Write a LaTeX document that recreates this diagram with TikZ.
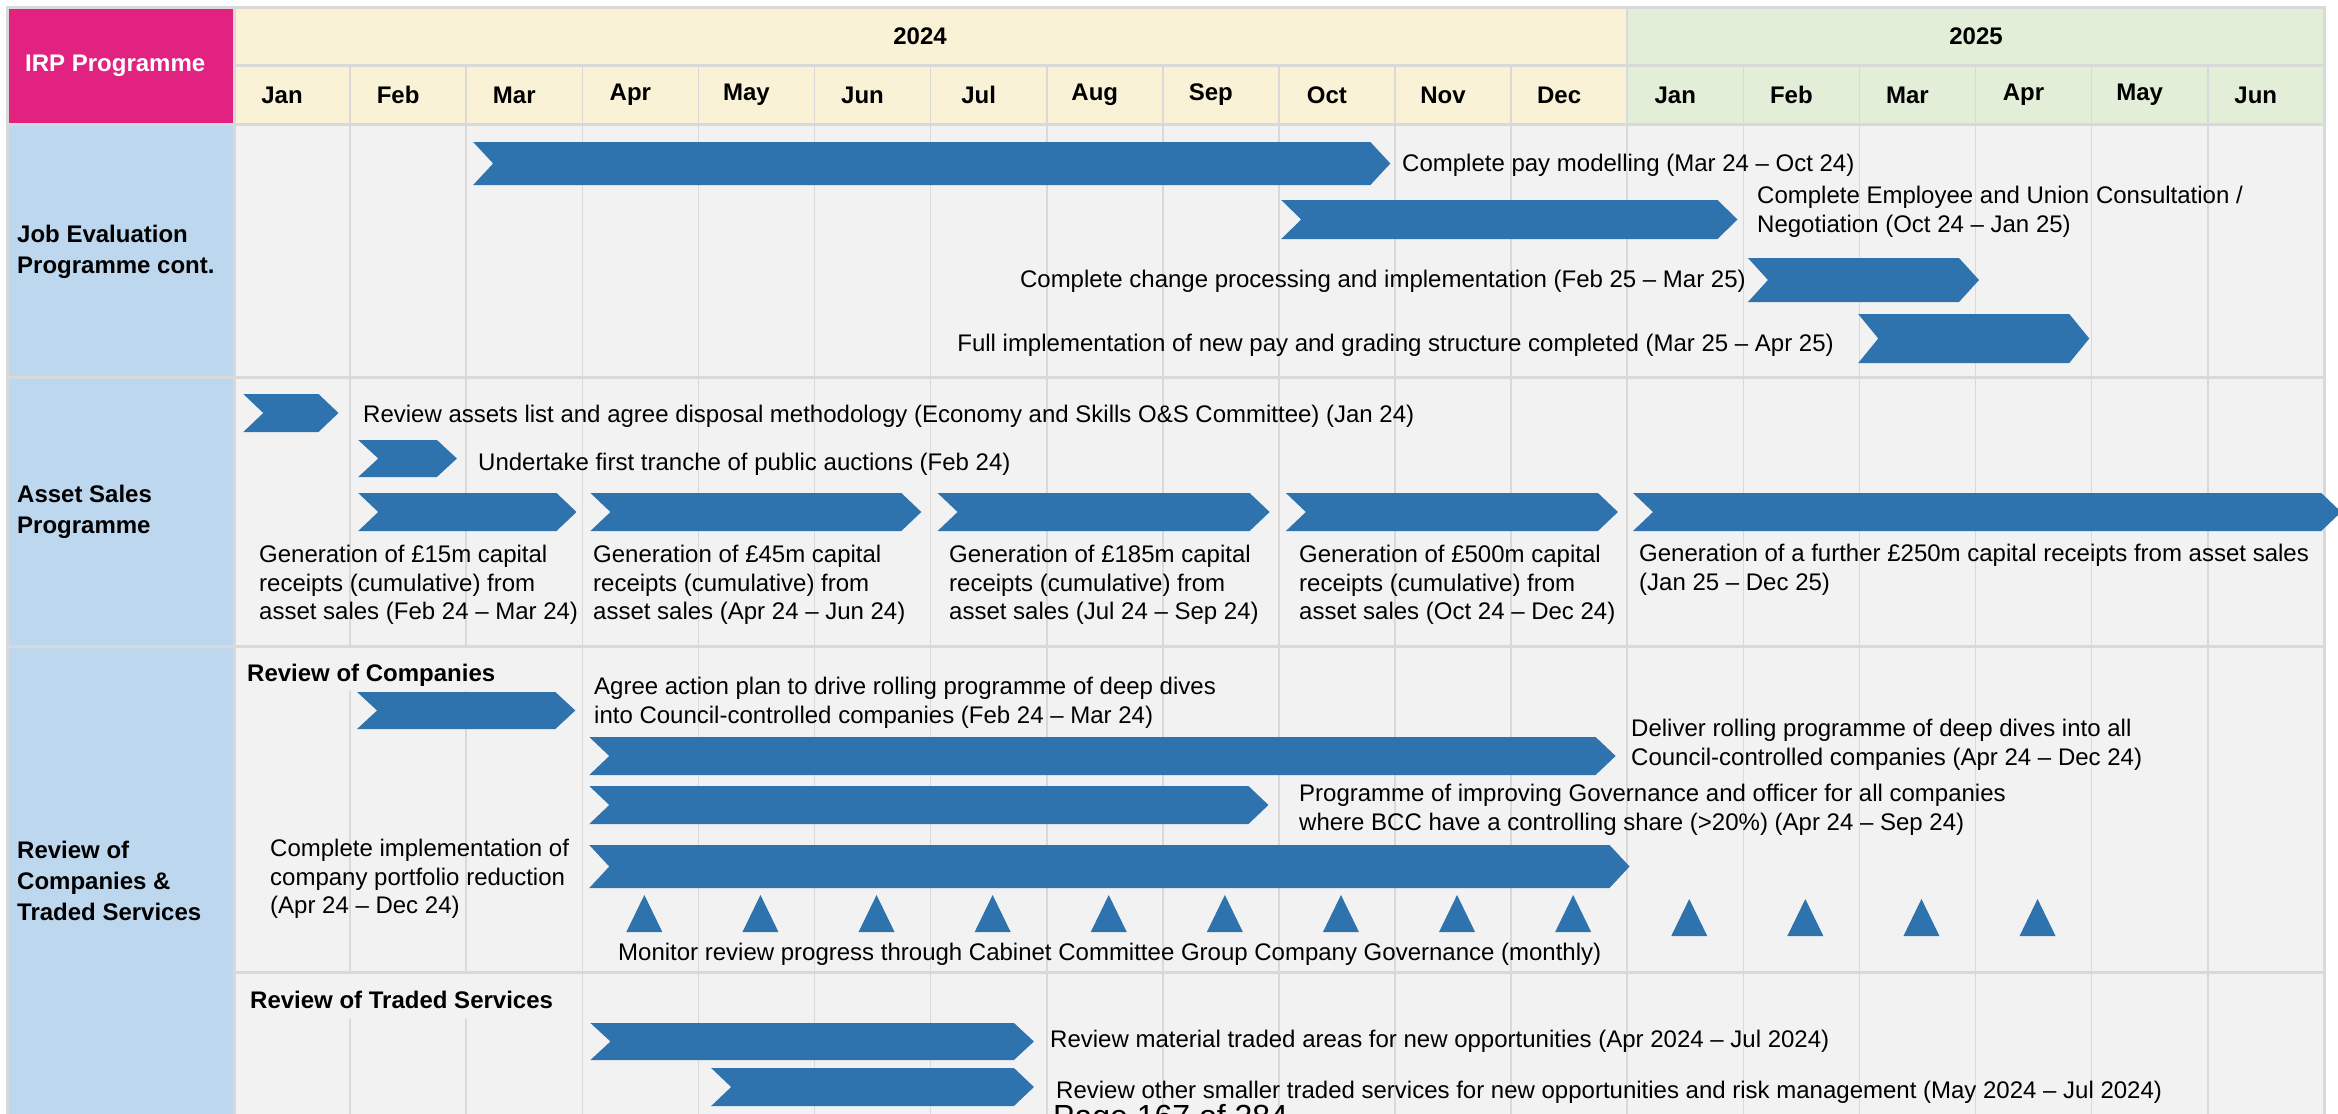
\documentclass[tikz,border=0pt]{standalone}
\usepackage{fontspec}
\setmainfont{Liberation Sans}

\definecolor{irppink}{RGB}{226,34,128}
\definecolor{rowblue}{RGB}{189,215,238}
\definecolor{cream24}{RGB}{250,242,214}
\definecolor{green25}{RGB}{227,238,216}
\definecolor{cellgrey}{RGB}{242,242,242}
\definecolor{gridgrey}{RGB}{217,217,217}
\definecolor{barblue}{RGB}{46,114,174}

% chevron task bar: start month, end month, top, bottom
\newcommand\DrawTask[4]{%
  \pgfmathsetmacro\xA{\Xo+\Mw*#1} % start
  \pgfmathsetmacro\xB{\Xo+\Mw*#2} % tip
  \pgfmathsetmacro\yM{(#3+#4)/2}
  \fill[task bar] (\xA,#3) -- ({\xB-\Tip},#3) -- (\xB,\yM) -- ({\xB-\Tip},#4)
    -- (\xA,#4) -- ({\xA+\Tip},\yM) -- cycle;
}
% milestone triangle: month index, top
\newcommand\DrawMilestone[2]{%
  \pgfmathsetmacro\xC{\Xo+\Mw*(#1+0.5)+4}
  \fill[task bar] (\xC,#2) -- ({\xC+18},{#2+37}) -- ({\xC-18},{#2+37}) -- cycle;
}

\tikzset{%
  task bar/.style={fill=barblue},
  grid line/.style={draw=gridgrey,line width=1.6pt},
  band line/.style={draw=gridgrey,line width=3pt},
  task text/.style={inner sep=0pt,anchor=west,align=left,
    font=\fontsize{24}{28.5}\selectfont},
  head text/.style={inner sep=0pt,font=\fontsize{24}{31}\selectfont\bfseries}%
}

\begin{document}
\begin{tikzpicture}[x=1pt,y=-1pt]
\def\Xo{234} % left edge of Jan 24
\def\Mw{116.1} % width of one month
\def\Tip{20} % depth of the chevron notch
\useasboundingbox (0,0) rectangle (2338,1114);
\clip (0,0) rectangle (2338,1114);

% cell backgrounds
\fill[white] (0,0) rectangle (2338,1114);
\fill[irppink] (7,7) rectangle (\Xo,124);
\fill[cream24] (\Xo,7) rectangle ({\Xo+\Mw*12},124);
\fill[green25] ({\Xo+\Mw*12},7) rectangle (2324,124);
\fill[rowblue] (7,124) rectangle (\Xo,1120);
\fill[cellgrey] (\Xo,124) rectangle (2324,1120);

% month grid
\foreach \i in {1,...,17} { \draw[grid line] ({\Xo+\Mw*\i},65) -- ({\Xo+\Mw*\i},1120); }
\draw[grid line] ({\Xo+\Mw*12},7) -- ({\Xo+\Mw*12},65);
\fill[cellgrey] (236,648) rectangle (581,691); % behind sub heading
\fill[cellgrey] (236,974) rectangle (581,1019);

\draw[band line] (\Xo,65) -- (2324,65);
\foreach \y in {124,377,646} { \draw[band line] (7,\y) -- (2324,\y); }
\draw[band line] (\Xo,972) -- (2324,972);
\draw[band line] (7,1120) -- (7,7) -- (2324,7) -- (2324,1120);
\draw[band line] (\Xo,7) -- (\Xo,1120);

% header
\node[head text,text=white,anchor=west] (irp) at (25,66) {IRP Programme};
\node[head text] (y2024) at (920,36) {2024};
\node[head text] (y2025) at (1976,36) {2025};
\foreach \m [count=\i from 0] in {Jan,Feb,Mar,Apr,May,Jun,Jul,Aug,Sep,Oct,Nov,Dec,Jan,Feb,Mar,Apr,May,Jun}
  \node[head text] (mon\i) at ({\Xo+\Mw*(\i+0.5)-10},95) {\m};

% row labels
\node[head text,anchor=west,align=left] (jobEval) at (17,252) {Job Evaluation\\Programme cont.};
\node[head text,anchor=west,align=left] (assetSales) at (17,512) {Asset Sales\\Programme};
\node[head text,anchor=west,align=left] (reviewCo) at (17,881) {Review of\\Companies \&\\Traded Services};

% job evaluation
\DrawTask{2.06}{9.96}{142}{185}
\DrawTask{9.02}{12.95}{200}{239}
\DrawTask{13.04}{15.03}{258}{302}
\DrawTask{13.99}{15.98}{314}{363}
\node[task text] (payTxt) at (1402,165) {Complete pay modelling (Mar 24 – Oct 24)};
\node[task text] (consultTxt) at (1757,212) {Complete Employee and Union Consultation /\\Negotiation (Oct 24 – Jan 25)};
\node[task text,anchor=east] (changeTxt) at (1746,281) {Complete change processing and implementation (Feb 25 – Mar 25)};
\node[task text,anchor=east] (gradingTxt) at (1834,345) {Full implementation of new pay and grading structure completed (Mar 25 – Apr 25)};

% asset sales
\DrawTask{0.08}{0.90}{394}{432}
\DrawTask{1.07}{1.92}{440}{477}
\DrawTask{1.07}{2.95}{493}{531}
\DrawTask{3.07}{5.92}{493}{531}
\DrawTask{6.06}{8.92}{493}{531}
\DrawTask{9.06}{11.92}{493}{531}
\DrawTask{12.05}{18.15}{493}{531}
\node[task text] (disposalTxt) at (363,416) {Review assets list and agree disposal methodology (Economy and Skills O\&S Committee) (Jan 24)};
\node[task text] (auctionTxt) at (478,464) {Undertake first tranche of public auctions (Feb 24)};
\node[task text] (gen15Txt) at (259,585) {Generation of £15m capital\\receipts (cumulative) from\\asset sales (Feb 24 – Mar 24)};
\node[task text] (gen45Txt) at (593,585) {Generation of £45m capital\\receipts (cumulative) from\\asset sales (Apr 24 – Jun 24)};
\node[task text] (gen185Txt) at (949,585) {Generation of £185m capital\\receipts (cumulative) from\\asset sales (Jul 24 – Sep 24)};
\node[task text] (gen500Txt) at (1299,585) {Generation of £500m capital\\receipts (cumulative) from\\asset sales (Oct 24 – Dec 24)};
\node[task text] (gen250Txt) at (1639,570) {Generation of a further £250m capital receipts from asset sales\\(Jan 25 – Dec 25)};

% review of companies
\node[head text,anchor=west] (subCo) at (247,675) {Review of Companies};
\DrawTask{1.06}{2.94}{692}{729}
\DrawTask{3.06}{11.90}{737}{775}
\DrawTask{3.06}{8.91}{786}{824}
\DrawTask{3.06}{12.02}{845}{888}
\node[task text] (agreeTxt) at (594,703) {Agree action plan to drive rolling programme of deep dives\\into Council-controlled companies (Feb 24 – Mar 24)};
\node[task text] (deliverTxt) at (1631,745) {Deliver rolling programme of deep dives into all\\Council-controlled companies (Apr 24 – Dec 24)};
\node[task text] (governTxt) at (1299,810) {Programme of improving Governance and officer for all companies\\where BCC have a controlling share (>20\%) (Apr 24 – Sep 24)};
\node[task text] (portfolioTxt) at (270,879) {Complete implementation of\\company portfolio reduction\\(Apr 24 – Dec 24)};
\foreach \m in {3,...,11} { \DrawMilestone{\m}{895} }
\foreach \m in {12,...,15} { \DrawMilestone{\m}{899} }
\node[task text] (monitorTxt) at (618,954) {Monitor review progress through Cabinet Committee Group Company Governance (monthly)};

% review of traded services
\node[head text,anchor=west] (subTraded) at (250,1000) {Review of Traded Services};
\DrawTask{3.07}{6.89}{1023}{1060}
\DrawTask{4.11}{6.89}{1068}{1106}
\node[task text] (materialTxt) at (1050,1041) {Review material traded areas for new opportunities (Apr 2024 – Jul 2024)};
\node[task text] (smallerTxt) at (1056,1092) {Review other smaller traded services for new opportunities and risk management (May 2024 – Jul 2024)};
\node[inner sep=0pt,anchor=north west,font=\fontsize{32}{36}\selectfont] (pageNo) at (1053,1104) {Page 167 of 284};

\end{tikzpicture}
\end{document}
